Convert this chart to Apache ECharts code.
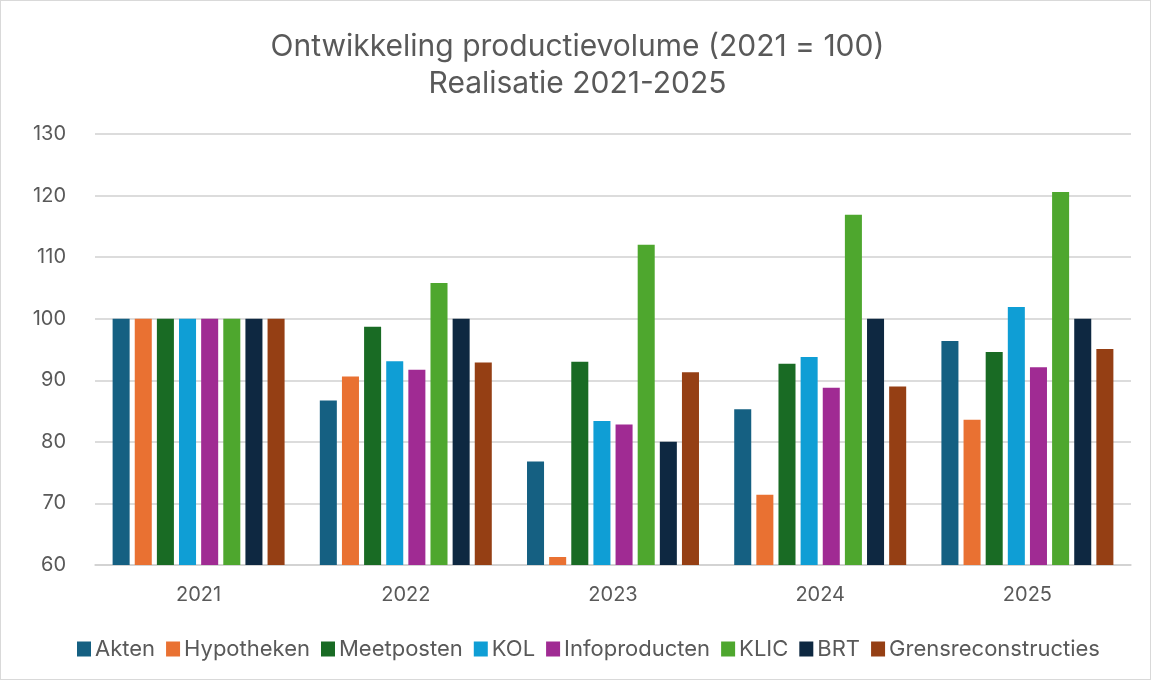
<!DOCTYPE html>
<html>
<head>
<meta charset="utf-8">
<script src="https://cdn.jsdelivr.net/npm/echarts@6/dist/echarts.min.js"></script>
<style>
  html, body { margin: 0; padding: 0; background: #fff; }
  #frame { position: absolute; left: 0; top: 0; width: 1149px; height: 678px; border: 1px solid #d9d9d9; }
  #chart { width: 1155px; height: 684px; }
</style>
</head>
<body>
<div id="frame"></div>
<div id="chart"></div>
<script>
// categories and series
var years = ['2021', '2022', '2023', '2024', '2025'];
var seriesNames = ['Akten', 'Hypotheken', 'Meetposten', 'KOL', 'Infoproducten', 'KLIC', 'BRT', 'Grensreconstructies'];
var akten = [100, 86.7, 76.8, 85.3, 96.4];
var hypotheken = [100, 90.6, 61.3, 71.4, 83.6];
var meetposten = [100, 98.7, 93.0, 92.7, 94.6];
var kol = [100, 93.1, 83.4, 93.8, 101.9];
var infoproducten = [100, 91.7, 82.8, 88.8, 92.1];
var klic = [100, 105.8, 112.0, 116.9, 120.6];
var brt = [100, 100, 80.0, 100, 100];
var grens = [100, 92.9, 91.3, 89.0, 95.1];
var colors = ['#156082', '#E97132', '#196B24', '#0F9ED5', '#A02B93', '#4EA72E', '#0E2841', '#953F14'];

var allData = [akten, hypotheken, meetposten, kol, infoproducten, klic, brt, grens];
var txt = '#595959';
var font = 'Inter, "Open Sans", sans-serif';

var myChart = echarts.init(document.getElementById('chart'));

var series = [];
for (var i = 0; i < seriesNames.length; i++) {
    series.push({
        name: seriesNames[i],
        type: 'bar',
        data: allData[i],
        barGap: '30%',
        barCategoryGap: '17%',
        itemStyle: { color: colors[i] }
    });
}

option = {
    animation: false,
    color: colors,
    title: {
        text: 'Ontwikkeling productievolume (2021 = 100)\nRealisatie 2021-2025',
        left: 'center',
        top: 23,
        textStyle: {
            color: txt,
            fontSize: 30,
            fontWeight: 'normal',
            fontFamily: font,
            lineHeight: 37
        }
    },
    legend: {
        data: seriesNames,
        bottom: 19,
        left: 72,
        itemWidth: 14,
        itemHeight: 15,
        itemGap: 11,
        icon: 'rect',
        textStyle: { color: txt, fontSize: 22, fontFamily: font, padding: [0, 0, 0, -1] }
    },
    grid: {
        left: 95,
        right: 24,
        top: 134,
        bottom: 119,
        containLabel: false
    },
    xAxis: {
        type: 'category',
        data: years,
        axisLine: { lineStyle: { color: '#d0d0d0', width: 1.5 } },
        axisTick: { show: false },
        axisLabel: { color: txt, fontSize: 20, fontFamily: font, margin: 20 }
    },
    yAxis: {
        type: 'value',
        min: 60,
        max: 130,
        interval: 10,
        axisLine: { show: false },
        axisTick: { show: false },
        axisLabel: { color: txt, fontSize: 20, fontFamily: font, margin: 29 },
        splitLine: { lineStyle: { color: '#d0d0d0', width: 1.5 } }
    },
    series: series
};
myChart.setOption(option);
</script>
</body>
</html>
